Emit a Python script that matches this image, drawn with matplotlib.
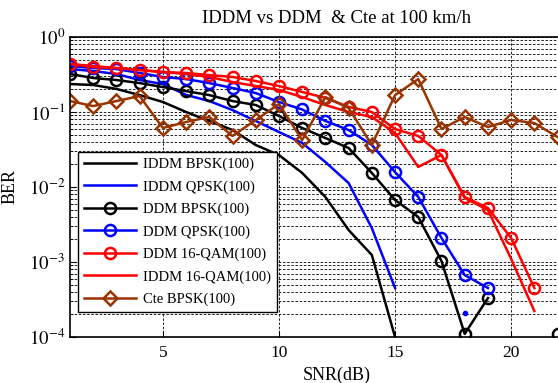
import numpy as np
import matplotlib
matplotlib.use('Agg')
import matplotlib.pyplot as plt
from matplotlib.ticker import LogLocator, FixedLocator, NullFormatter

plt.rcParams['font.family'] = ['Liberation Serif', 'DejaVu Serif']
plt.rcParams['mathtext.fontset'] = 'stix'

# SNR axis
snr = np.arange(1, 23)

# BER values (NaN = no value drawn)
iddm_bpsk = [0.236, 0.229, 0.203, 0.168, 0.136, 0.100, 0.0759, 0.0575, 0.0363,
             0.0267, 0.0154, 0.00736, 0.00267, 0.00124, 0.0001]
iddm_qpsk = [0.374, 0.352, 0.321, 0.267, 0.236, 0.169, 0.140, 0.106, 0.0759,
             0.0541, 0.0387, 0.0215, 0.0113, 0.00283, 0.00045]
ddm_bpsk = [0.321, 0.284, 0.267, 0.243, 0.215, 0.190, 0.168, 0.140, 0.124,
            0.0885, 0.0612, 0.045, 0.0331, 0.0154, 0.00671, 0.00398, 0.00103,
            0.00011, 0.00033, np.nan, np.nan, 0.00011]
ddm_qpsk = [0.410, 0.386, 0.374, 0.331, 0.293, 0.275, 0.243, 0.209, 0.179,
            0.136, 0.108, 0.0759, 0.0575, 0.0364, 0.0158, 0.00736, 0.00209,
            0.00067, 0.00045]
ddm_qam16 = [0.437, 0.398, 0.386, 0.363, 0.341, 0.331, 0.311, 0.293, 0.259,
             0.222, 0.185, 0.154, 0.117, 0.100, 0.0593, 0.0479, 0.0267,
             0.00736, 0.00525, 0.00209, 0.00045]
iddm_qam16 = [0.437, 0.410, 0.386, 0.363, 0.341, 0.321, 0.293, 0.251, 0.222,
              0.197, 0.158, 0.124, 0.100, 0.0858, 0.0525, 0.0185, 0.0267,
              0.00713, 0.00494, 0.0011, 0.000222]
cte_bpsk = [0.140, 0.120, 0.140, 0.163, 0.0612, 0.0736, 0.0858, 0.0479, 0.0782,
            0.128, 0.0423, 0.158, 0.113, 0.0363, 0.168, 0.275, 0.0593, 0.0858,
            0.0631, 0.0782, 0.0713, 0.0464]
# lone blue dot near the bottom
dot_snr = [18]
dot_ber = [0.00021]

brown = '#993300'

fig = plt.figure(figsize=(5.58, 3.83), dpi=100)
ax = fig.add_axes([70 / 558, 46 / 383, 534 / 558, 300 / 383])

lw = 1.8
ms = 8
ax.plot(snr[:len(iddm_bpsk)], iddm_bpsk, color='k', lw=lw, label='IDDM BPSK(100)')
ax.plot(snr[:len(iddm_qpsk)], iddm_qpsk, color='b', lw=lw, label='IDDM QPSK(100)')
ax.plot(snr[:len(ddm_bpsk)], ddm_bpsk, color='k', lw=lw, marker='o', ms=ms,
        mfc='none', mew=1.8, label='DDM BPSK(100)')
ax.plot(snr[:len(ddm_qpsk)], ddm_qpsk, color='b', lw=lw, marker='o', ms=ms,
        mfc='none', mew=1.8, label='DDM QPSK(100)')
ax.plot(snr[:len(ddm_qam16)], ddm_qam16, color='r', lw=lw, marker='o', ms=ms,
        mfc='none', mew=1.8, label='DDM 16-QAM(100)')
ax.plot(snr[:len(iddm_qam16)], iddm_qam16, color='r', lw=lw, label='IDDM 16-QAM(100)')
ax.plot(snr[:len(cte_bpsk)], cte_bpsk, color=brown, lw=lw, marker='D', ms=7,
        mfc='none', mew=1.8, label='Cte BPSK(100)')
ax.plot(dot_snr, dot_ber, 'o', color='b', ms=3)

ax.set_yscale('log')
ax.set_xlim(1, 24)
ax.set_ylim(1e-4, 1)

ax.xaxis.set_major_locator(FixedLocator([5, 10, 15, 20]))
ax.set_yticks([1e-4, 1e-3, 1e-2, 1e-1, 1])
ax.set_yticklabels([r'$10^{-4}$', r'$10^{-3}$', r'$10^{-2}$', r'$10^{-1}$', r'$10^{0}$'],
                   fontsize=13.5)
ax.yaxis.set_minor_locator(LogLocator(base=10, subs=np.arange(2, 10)))
ax.yaxis.set_minor_formatter(NullFormatter())

ax.tick_params(which='both', direction='in')
ax.tick_params(axis='x', labelsize=12.5, pad=6)
ax.tick_params(which='major', length=4)
ax.tick_params(which='minor', length=2)

ax.grid(True, which='major', axis='both', color='k', linestyle=(0, (3, 2)), lw=0.6)
ax.grid(True, which='minor', axis='y', color='k', linestyle=(0, (3, 2)), lw=0.6)

for s in ax.spines.values():
    s.set_linewidth(1.2)

ax.set_title('IDDM vs DDM  & Cte at 100 km/h', fontsize=13.5, pad=10)
ax.set_xlabel('SNR(dB)', fontsize=13, labelpad=4)
ax.set_ylabel('BER', fontsize=13)
ax.yaxis.set_label_coords(-0.097, 0.5)

leg = ax.legend(loc='lower left', bbox_to_anchor=(0.015, 0.083), borderaxespad=0,
                fontsize=10.5, handlelength=3.6, handletextpad=0.45,
                labelspacing=0.62, fancybox=False, framealpha=1, edgecolor='k')
leg.get_frame().set_linewidth(1.0)

fig.savefig('out.png', dpi=100)
